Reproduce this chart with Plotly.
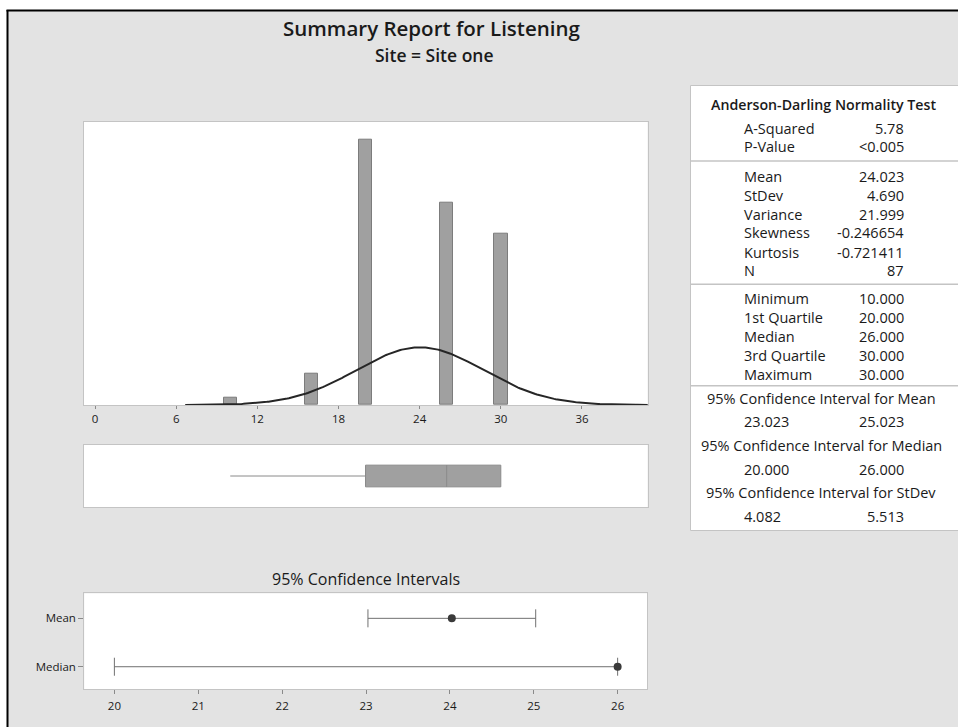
import numpy as np
import plotly.graph_objects as go

# ---------------- data ----------------
bin_centers = [10, 16, 20, 26, 30]
bin_counts = [1, 4, 34, 26, 22]
bin_width = 1.0

n_obs = 87
mean_val = 24.023
stdev_val = 4.690

box_min = 10.0
box_q1 = 20.0
box_median = 26.0
box_q3 = 30.0
box_max = 30.0

hist_ticks = [0, 6, 12, 18, 24, 30, 36]

ci_names = ["Mean", "Median"]
ci_centers = [24.023, 26.0]
ci_lower = [23.023, 20.0]
ci_upper = [25.023, 26.0]
ci_ticks = [20, 21, 22, 23, 24, 25, 26]

ad_labels = ["A-Squared", "P-Value"]
ad_values = ["5.78", "<0.005"]
desc_labels = ["Mean", "StDev", "Variance", "Skewness", "Kurtosis", "N"]
desc_values = ["24.023", "4.690", "21.999", "-0.246654", "-0.721411", "87"]
quant_labels = ["Minimum", "1st Quartile", "Median", "3rd Quartile", "Maximum"]
quant_values = ["10.000", "20.000", "26.000", "30.000", "30.000"]
ci_table_heads = ["95% Confidence Interval for Mean",
                  "95% Confidence Interval for Median",
                  "95% Confidence Interval for StDev"]
ci_table_low = ["23.023", "20.000", "4.082"]
ci_table_high = ["25.023", "26.000", "5.513"]

# ---------------- layout helpers ----------------
W, H = 958, 727


def fx(px):
    return px / W


def fy(py):
    return 1 - py / H


FONT = "Open Sans"
TXT = "#1a1a1a"
BAR_FILL = "#a0a0a0"
BAR_EDGE = "#7c7c7c"
FRAME = "#c4c4c4"

fig = go.Figure()

# fitted normal curve (drawn first so the bars sit on top of it)
curve_x = np.linspace(mean_val - 3.7 * stdev_val, mean_val + 3.7 * stdev_val, 300)
curve_y = n_obs * bin_width * np.exp(-0.5 * ((curve_x - mean_val) / stdev_val) ** 2) / (
    stdev_val * np.sqrt(2 * np.pi))
fig.add_trace(go.Scatter(
    x=curve_x, y=curve_y, mode="lines",
    line=dict(color="#262626", width=2),
    xaxis="x", yaxis="y", showlegend=False, hoverinfo="skip",
))
# histogram
fig.add_trace(go.Bar(
    x=bin_centers, y=bin_counts, width=bin_width,
    marker=dict(color=BAR_FILL, line=dict(color=BAR_EDGE, width=1)),
    xaxis="x", yaxis="y", showlegend=False, hoverinfo="skip",
))

# boxplot
fig.add_trace(go.Box(
    y=[0], q1=[box_q1], median=[box_median], q3=[box_q3],
    lowerfence=[box_min], upperfence=[box_max],
    orientation="h", width=1.04, whiskerwidth=0, boxpoints=False,
    fillcolor=BAR_FILL, line=dict(color="#8a8a8a", width=1),
    xaxis="x2", yaxis="y2", showlegend=False, hoverinfo="skip",
))

# confidence intervals
ci_pos = [1, 0]
fig.add_trace(go.Scatter(
    x=ci_centers, y=ci_pos, mode="markers",
    marker=dict(color="#3a3a3a", size=8),
    error_x=dict(type="data", symmetric=False,
                 array=[u - c for u, c in zip(ci_upper, ci_centers)],
                 arrayminus=[c - l for c, l in zip(ci_centers, ci_lower)],
                 color="#707070", thickness=1, width=9),
    xaxis="x3", yaxis="y3", showlegend=False, hoverinfo="skip",
))

tick_font = dict(family=FONT, size=11.5, color=TXT, weight=500)
panel_axis = dict(showline=True, mirror=True, linecolor=FRAME, linewidth=1,
                  showgrid=False, zeroline=False)

fig.update_layout(
    width=W, height=H, autosize=False,
    margin=dict(l=0, r=0, t=0, b=0),
    paper_bgcolor="#e3e3e3", plot_bgcolor="white",
    font=dict(family=FONT, color=TXT),
    xaxis=dict(domain=[fx(84), fx(647.7)], range=[-0.813, 40.86], anchor="y",
               tickvals=hist_ticks, ticks="outside", ticklen=3, tickcolor="#8a8a8a",
               tickfont=tick_font, **panel_axis),
    yaxis=dict(domain=[fy(405), fy(121.7)], range=[0, 36.37], anchor="x",
               showticklabels=False, ticks="", **panel_axis),
    xaxis2=dict(domain=[fx(84), fx(647.7)], range=[-0.813, 40.86], anchor="y2",
                showticklabels=False, ticks="", **panel_axis),
    yaxis2=dict(domain=[fy(507.3), fy(444.7)], range=[-1.5, 1.5], anchor="x2",
                showticklabels=False, ticks="", **panel_axis),
    xaxis3=dict(domain=[fx(84.2), fx(647)], range=[19.64, 26.35], anchor="y3",
                tickvals=ci_ticks, ticks="outside", ticklen=4, tickcolor="#8a8a8a",
                tickfont=tick_font, ticklabelstandoff=2, **panel_axis),
    yaxis3=dict(domain=[fy(689), fy(593.3)], range=[-0.46, 1.517], anchor="x3",
                tickvals=ci_pos, ticktext=ci_names, ticks="outside", ticklen=5,
                tickcolor="#8a8a8a", tickfont=tick_font, **panel_axis),
    bargap=0,
)

shapes = [
    # white page margin and black frame edge
    dict(type="rect", xref="paper", yref="paper", x0=0, x1=fx(7), y0=0, y1=1,
         fillcolor="white", line=dict(width=0), layer="below"),
    dict(type="rect", xref="paper", yref="paper", x0=0, x1=1, y0=fy(10), y1=1,
         fillcolor="white", line=dict(width=0), layer="below"),
    dict(type="line", xref="paper", yref="paper", x0=fx(7.5), x1=fx(7.5), y0=0, y1=fy(10),
         line=dict(color="black", width=2)),
    dict(type="line", xref="paper", yref="paper", x0=fx(6.5), x1=1, y0=fy(10.5), y1=fy(10.5),
         line=dict(color="black", width=2)),
    # statistics table box
    dict(type="rect", xref="paper", yref="paper", x0=fx(690.5), x1=fx(965), y0=fy(530.5), y1=fy(85.5),
         fillcolor="white", line=dict(color=FRAME, width=1), layer="below"),
]
for sep in [161, 284.3, 385.7]:
    shapes.append(dict(type="line", xref="paper", yref="paper", x0=fx(690.5), x1=1,
                       y0=fy(sep), y1=fy(sep), line=dict(color=FRAME, width=1.5)))

annotations = []


def text(x, y, s, size, anchor="center", weight="normal"):
    annotations.append(dict(
        x=fx(x), y=fy(y), xref="paper", yref="paper", text=s, showarrow=False,
        xanchor=anchor, yanchor="middle",
        font=dict(family=FONT, size=size, color=TXT, weight=weight),
    ))


# titles
text(432, 28, "Summary Report for Listening", 20.5, weight=600)
text(434, 55, "Site = Site one", 17.5, weight=600)
text(366, 579, "95% Confidence Intervals", 16)

# statistics table
LBL_X, VAL_X, MID_X, TS = 742, 906, 823, 14.5
text(MID_X, 104, "Anderson-Darling Normality Test", 14.2, weight=600)
for lbl, val, y in zip(ad_labels, ad_values, [128.3, 146.7]):
    text(LBL_X, y, lbl, TS, "left", weight=500)
    text(VAL_X, y, val, TS, "right", weight=500)
for i, (lbl, val) in enumerate(zip(desc_labels, desc_values)):
    y = 176 + 19 * i
    text(LBL_X, y, lbl, TS, "left", weight=500)
    text(VAL_X, y, val, TS, "right", weight=500)
for i, (lbl, val) in enumerate(zip(quant_labels, quant_values)):
    y = 298.5 + 19 * i
    text(LBL_X, y, lbl, TS, "left", weight=500)
    text(VAL_X, y, val, TS, "right", weight=500)
for i, (head, lo, hi) in enumerate(zip(ci_table_heads, ci_table_low, ci_table_high)):
    y = 398.3 + 47.2 * i
    text(MID_X - 2, y, head, TS, weight=500)
    text(LBL_X, y + 23.5, lo, TS, "left", weight=500)
    text(VAL_X, y + 23.5, hi, TS, "right", weight=500)

fig.update_layout(shapes=shapes, annotations=annotations)

fig.write_html("out.html")
